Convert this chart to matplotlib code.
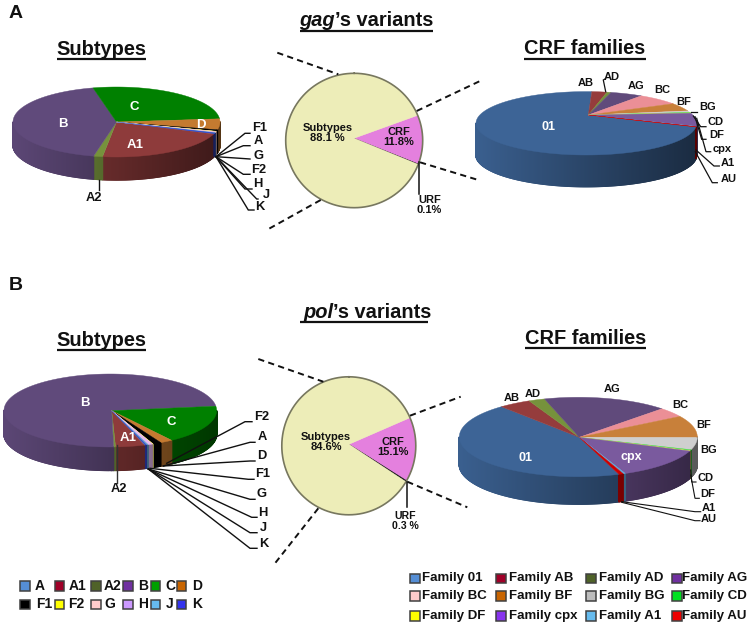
"""
HIV-1 gag and pol variant shares, drawn as pseudo-3D pies on one pixel-sized canvas.
"""

import matplotlib
matplotlib.use('Agg')
import matplotlib.pyplot as plt
from matplotlib.collections import PolyCollection
from matplotlib.colors import to_rgb
from matplotlib.patches import Rectangle
import numpy as np

plt.rcParams['font.family'] = ['Liberation Sans', 'DejaVu Sans']
plt.rcParams['font.weight'] = 'bold'

# Data, percent shares
subtype_names = ['A', 'A1', 'A2', 'B', 'C', 'D', 'F1', 'F2', 'G', 'H', 'J', 'K']
gag_subtypes = [0.25, 21.6, 1.4, 42.8, 27.2, 5.0, 0.7, 0.15, 0.3, 0.2, 0.2, 0.2]
pol_subtypes = [0.2, 4.4, 0.3, 73.6, 17.1, 1.9, 1.3, 0.1, 0.1, 0.6, 0.3, 0.1]

family_names = ['01', 'AB', 'AD', 'AG', 'BC', 'BF', 'BG', 'CD', 'DF', 'cpx', 'A1', 'AU']
gag_families = [74.0, 2.2, 0.6, 4.7, 6.1, 4.2, 0.8, 0.3, 0.15, 6.7, 0.15, 0.1]
pol_families = [44.4, 4.4, 2.2, 17.0, 3.9, 8.9, 5.0, 0.4, 0.15, 12.8, 0.3, 0.6]

gag_overview = [11.8, 0.1, 88.1]
pol_overview = [15.1, 0.3, 84.6]

# Colours of the slices
subtype_colors = ['#4f81bd', '#8e3b3b', '#76923c', '#604a7b', '#008000', '#c47a30',
                  '#000000', '#ffff66', '#f2c4c4', '#e6b8f0', '#5f9fc8', '#3344cc']
family_colors = ['#3d6496', '#953c3c', '#76923c', '#604a7b', '#eb8f96', '#c8803a',
                 '#cfcfcf', '#4cd94c', '#e8e860', '#7a5a9e', '#5fa8d8', '#cc0000']
overview_colors = ['#e480de', '#111111', '#ededb8']

# Colours of the legend squares
subtype_legend = ['#558ed5', '#a00028', '#4f6228', '#7030a0', '#00a000', '#c86400',
                  '#000000', '#ffff00', '#ffcccc', '#cc99ff', '#66bbee', '#3333ee']
family_legend = ['#558ed5', '#a00028', '#4f6228', '#7030a0', '#ffcccc', '#c86400',
                 '#bdbdbd', '#00e020', '#ffff00', '#8833ee', '#66bbee', '#ee0000']

INK = '#111111'


def pie_rim(t_deg, cx, cy, rx, ry):
    t = np.radians(t_deg)
    return cx + rx * np.sin(t), cy - ry * np.cos(t)


def draw_pie(ax, values, colors, start, cx, cy, rx, ry, depth=0, apex=None, edge=None):
    """Clockwise pie on an ellipse, with a shaded wall when depth is above 0."""
    apex = apex or (cx, cy)
    sizes = np.array(values, dtype=float)
    edges = start + np.concatenate([[0], np.cumsum(sizes / sizes.sum() * 360)])

    # Wall first, as thin strips that darken from left to right
    if depth:
        strips, strip_colors = [], []
        for color, a, b in zip(colors, edges[:-1], edges[1:]):
            ts = np.arange(a, b + 0.5, 0.5)
            ts[-1] = b
            for t0, t1 in zip(ts[:-1], ts[1:]):
                if not 90 <= (0.5 * (t0 + t1)) % 360 <= 270:
                    continue
                x0, y0 = pie_rim(t0, cx, cy, rx, ry)
                x1, y1 = pie_rim(t1, cx, cy, rx, ry)
                shade = 0.95 - 0.52 * (0.5 * (x0 + x1) - cx + rx) / (2 * rx)
                strips.append([(x0, y0), (x1, y1), (x1, y1 + depth), (x0, y0 + depth)])
                strip_colors.append(tuple(c * shade for c in to_rgb(color)))
        ax.add_collection(PolyCollection(strips, facecolors=strip_colors,
                                         edgecolors=strip_colors, linewidths=1.0))

    # Top face
    for color, a, b in zip(colors, edges[:-1], edges[1:]):
        ts = np.linspace(a, b, max(int(b - a) * 2, 3))
        xs, ys = pie_rim(ts, cx, cy, rx, ry)
        ax.fill(np.r_[apex[0], xs], np.r_[apex[1], ys], facecolor=color,
                edgecolor=color, linewidth=0.3)

    if edge:
        ts = np.linspace(0, 360, 361)
        ax.plot(*pie_rim(ts, cx, cy, rx, ry), color=edge, lw=1.2)


def leader(ax, points, lw=1.0, color=INK):
    xs, ys = zip(*points)
    ax.plot(xs, ys, color=color, lw=lw, solid_joinstyle='miter')


def dashed(ax, points):
    xs, ys = zip(*points)
    ax.plot(xs, ys, color=INK, lw=1.4, dashes=(3.2, 2.2))


def label(ax, x, y, s, size=9.3, color=INK, **kw):
    ax.text(x, y, s, fontsize=size, color=color, ha='center', va='center', **kw)


def underlined(ax, x0, x1, y_line, y_text, s):
    ax.text(0.5 * (x0 + x1), y_text, s, fontsize=14.4, color=INK, ha='center', va='baseline')
    ax.plot([x0, x1], [y_line, y_line], color=INK, lw=1.6, solid_capstyle='butt')


def variant_title(ax, split, y_text, y_line, x0, x1, gene, rest):
    ax.text(split, y_text, gene, fontsize=14.4, style='italic', color=INK, ha='right', va='baseline')
    ax.text(split, y_text, rest, fontsize=14.4, color=INK, ha='left', va='baseline')
    ax.plot([x0, x1], [y_line, y_line], color=INK, lw=1.6, solid_capstyle='butt')


def legend_row(ax, y, names, colors, box_x, text_x, size):
    for name, color, bx, tx in zip(names, colors, box_x, text_x):
        ax.add_patch(Rectangle((bx - 4.8, y - 4.8), 9.6, 9.6, facecolor=color,
                               edgecolor='#404040', linewidth=1.1))
        ax.text(tx, y, name, fontsize=size, color=INK, ha='left', va='center')


fig = plt.figure(figsize=(7.5, 6.27), dpi=100)
ax = fig.add_axes([0, 0, 1, 1])
ax.set_xlim(0, 750)
ax.set_ylim(627, 0)
ax.axis('off')

ax.text(9, 17.5, 'A', fontsize=14, color=INK, ha='left', va='baseline')
ax.text(9, 290, 'B', fontsize=14, color=INK, ha='left', va='baseline')

# Panel titles
variant_title(ax, 335, 26.5, 30.7, 300, 433.3, 'gag', '\u2019s variants')
variant_title(ax, 333, 317.5, 321.7, 300, 428.3, 'pol', '\u2019s variants')
underlined(ax, 57, 146, 59, 55, 'Subtypes')
underlined(ax, 57, 146, 350, 346, 'Subtypes')
underlined(ax, 524.3, 645.7, 59.3, 54.5, 'CRF families')
underlined(ax, 525, 645.7, 348.3, 344, 'CRF families')

# gag subtypes
draw_pie(ax, gag_subtypes, subtype_colors, 109.1, 116.5, 122, 103.5, 35, depth=23)
for x, y, s in [(62.7, 124, 'B'), (134, 106.7, 'C'), (201, 125, 'D'), (135, 145, 'A1')]:
    label(ax, x, y, s, size=9.5, color='white')
label(ax, 93.7, 198.3, 'A2')
leader(ax, [(99, 180), (99, 190)])
fan = (216, 156.7)
for x, y, s, p1, p2 in [(259.3, 127.7, 'F1', (245, 133.3), (250, 133.3)),
                        (258.3, 141, 'A', (243.3, 145.7), (250, 145.7)),
                        (258.7, 155.7, 'G', (240, 158.3), (250, 159)),
                        (258.3, 170, 'F2', (243.3, 174.3), (250, 174.3)),
                        (258, 184.3, 'H', (245, 189), (252, 189)),
                        (266, 195, 'J', (256.7, 199), (258, 199)),
                        (260, 206.7, 'K', (248.3, 210), (254, 210))]:
    label(ax, x, y, s)
    leader(ax, [fan, p1, p2])

# gag overview
draw_pie(ax, gag_overview, overview_colors, 68, 354.2, 140.5, 68.5, 67.2,
         apex=(354, 138.3), edge='#77775f')
dashed(ax, [(277.3, 52.7), (338.3, 74.3)])
dashed(ax, [(416.7, 111), (480.7, 80.7)])
dashed(ax, [(420, 162.3), (478.3, 180)])
dashed(ax, [(320.7, 200), (266.7, 230)])
leader(ax, [(419.3, 162.3), (419.3, 194)], lw=1.1)
label(ax, 327.3, 132.7, 'Subtypes\n88.1 %', size=8, linespacing=1.0)
label(ax, 399, 136.7, 'CRF\n11.8%', size=8, linespacing=1.0)
label(ax, 429.3, 205, 'URF\n0.1%', size=8, linespacing=1.0)

# gag CRF families
draw_pie(ax, gag_families, family_colors, 96.5, 586.3, 123.3, 110.3, 31.7, depth=31.7,
         apex=(588.3, 115))
label(ax, 548.3, 127.3, '01', size=9, color='white')
for x, y, s in [(585.7, 82.7, 'AB'), (612, 77, 'AD'), (635.7, 85.7, 'AG'), (662, 90, 'BC'),
                (684, 102, 'BF'), (707.7, 107.3, 'BG'), (715.3, 122, 'CD'), (717, 135.3, 'DF'),
                (722, 149, 'cpx'), (727.3, 163.3, 'A1'), (729, 179, 'AU')]:
    label(ax, x, y, s, size=8)
for pts in [[(605.7, 91.7), (603.3, 80), (605, 79)],
            [(690.7, 111.7), (697, 111.7)],
            [(693.3, 116), (700.7, 126.7), (706, 126.7)],
            [(695, 116.7), (701.7, 139.3), (706, 139.3)],
            [(696.7, 118.3), (706, 151.7), (710.7, 151.7)],
            [(696, 150), (714, 166), (719.3, 166)],
            [(695.3, 151.7), (712.3, 182.7), (717.3, 182.7)]]:
    leader(ax, pts, lw=0.9)

# pol subtypes
draw_pie(ax, pol_subtypes, subtype_colors, 160.6, 110.3, 410.5, 106.3, 36.5, depth=23.5,
         apex=(111.7, 410.7))
for x, y, s in [(85, 402.7, 'B'), (171, 422, 'C'), (128.3, 437.7, 'A1')]:
    label(ax, x, y, s, size=9.5, color='white')
label(ax, 118.7, 489.3, 'A2')
leader(ax, [(116.7, 445), (116.7, 483)], color='#333333')
for x, y, s, p0, p1, p2 in [(262, 417.3, 'F2', (166.7, 463.3), (245, 421.7), (252, 421.7)),
                            (262.3, 437.3, 'A', (163.3, 466), (250, 442.3), (255, 442.3)),
                            (261.7, 456, 'D', (163.3, 466), (250, 461), (255, 461)),
                            (263, 474.3, 'F1', (150, 468.3), (248.3, 479.3), (254, 479.3)),
                            (261.7, 494.3, 'G', (148.3, 469), (250, 499.3), (255, 499.3)),
                            (263.3, 512.7, 'H', (148.3, 469), (251.7, 517.3), (257, 517.3)),
                            (263.3, 528.3, 'J', (148.3, 469), (250, 532.7), (257, 532.7)),
                            (264, 544.3, 'K', (148.3, 469), (250, 548.3), (257, 548.3))]:
    label(ax, x, y, s)
    leader(ax, [p0, p1, p2])

# pol overview
draw_pie(ax, pol_overview, overview_colors, 66, 348.8, 445.8, 67, 69,
         apex=(349, 444.3), edge='#77775f')
dashed(ax, [(258.3, 359), (323.3, 381.7)])
dashed(ax, [(410, 415.7), (460.7, 396.7)])
dashed(ax, [(407.3, 481.7), (467.3, 507.3)])
dashed(ax, [(318.3, 508.3), (275, 563.3)])
leader(ax, [(407.3, 481.7), (407.3, 507.3)], lw=1.1)
label(ax, 326, 441.7, 'Subtypes\n84.6%', size=8, linespacing=1.0)
label(ax, 393.3, 446.7, 'CRF\n15.1%', size=8, linespacing=1.0)
label(ax, 405.3, 520.7, 'URF\n0.3 %', size=7.6, linespacing=1.0)

# pol CRF families
draw_pie(ax, pol_families, family_colors, 160, 578.3, 437, 119, 39.7, depth=27.5,
         apex=(579.3, 437.3))
label(ax, 525.3, 457.7, '01', size=9, color='white')
label(ax, 631, 456.7, 'cpx', size=9, color='white')
for x, y, s in [(511.7, 398.3, 'AB'), (532.7, 394.3, 'AD'), (612.3, 388.7, 'AG'), (680.3, 405, 'BC'),
                (703.3, 424.7, 'BF'), (709, 450, 'BG'), (706, 478.3, 'CD'), (707.7, 494.3, 'DF'),
                (708.3, 508.3, 'A1'), (708.7, 518.7, 'AU')]:
    label(ax, x, y, s, size=8)
for pts in [[(690.7, 470), (691.7, 482), (696, 482)],
            [(690.7, 475), (695, 498.3), (699.3, 498.3)],
            [(621.7, 501.7), (695, 511.7), (700.7, 511.7)],
            [(621.7, 502.3), (695, 520.7), (700, 520.7)]]:
    leader(ax, pts, lw=0.8)

# Legends
sub_box = [25, 59.3, 95.7, 127.7, 155.3, 181.3]
legend_row(ax, 586, subtype_names[:6], subtype_legend[:6], sub_box,
           [35, 68.3, 103.3, 138.3, 165, 191.7], 10)
legend_row(ax, 604.3, subtype_names[6:], subtype_legend[6:], sub_box,
           [36, 68.3, 104, 138.3, 166, 191.7], 10)

fam_box = [415, 501, 591, 676.7]
fam_text = [421.7, 509.3, 599, 681.7]
fam_labels = ['Family ' + name for name in family_names]
for row, y in enumerate([578.3, 596, 616]):
    legend_row(ax, y, fam_labels[row * 4:row * 4 + 4], family_legend[row * 4:row * 4 + 4],
               fam_box, fam_text, 9.5)

fig.savefig('out.png', dpi=100)
plt.close(fig)
